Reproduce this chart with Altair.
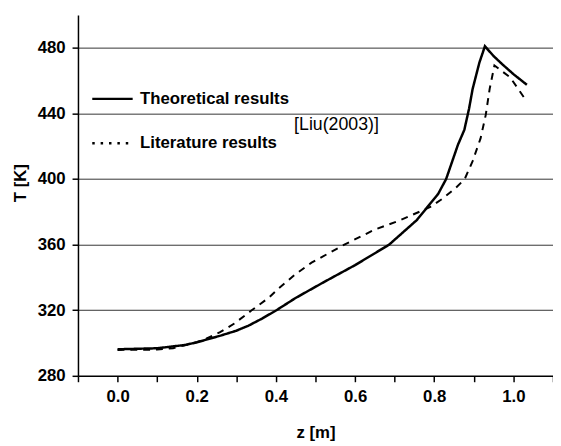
import altair as alt
import pandas as pd

# Theoretical results (solid)
z_theo = [0.0, 0.1, 0.17, 0.2, 0.26, 0.3, 0.33, 0.365, 0.4, 0.45, 0.52, 0.6,
          0.686, 0.756, 0.81, 0.83, 0.86, 0.876, 0.888, 0.897, 0.914, 0.928,
          0.95, 0.972, 1.0, 1.034]
T_theo = [296.2, 296.8, 298.8, 300.4, 304.5, 307.5, 310.5, 314.9, 319.8, 327.5,
          337, 347.5, 360, 375, 391, 400, 421, 430, 443, 455, 471, 481,
          475, 470, 464, 457.5]

# Literature results [Liu(2003)] (dashed)
z_lit = [0.0, 0.1, 0.14, 0.2, 0.224, 0.259, 0.295, 0.338, 0.382, 0.405, 0.449,
         0.49, 0.573, 0.648, 0.715, 0.79, 0.822, 0.855, 0.877, 0.897, 0.917,
         0.93, 0.94, 0.952, 0.992, 1.029]
T_lit = [295.8, 296.0, 296.8, 300.5, 302.6, 306.6, 311.9, 319.8, 327.6, 332.9,
         341.9, 349, 360, 369, 375, 383, 388.2, 394.8, 400, 411, 424.8,
         439, 455, 469.3, 462, 449]

series_names = ["Theoretical results", "Literature results"]
x_ticks = [round(-0.1 + 0.1 * i, 1) for i in range(13)]
y_ticks = list(range(280, 501, 20))
annotation = ["[Liu(2003)]"]
annotation_z = [0.446]
annotation_T = [433]

theo = pd.DataFrame({"z": z_theo, "T": T_theo, "series": series_names[0]})
lit = pd.DataFrame({"z": z_lit, "T": T_lit, "series": series_names[1]})
ann = pd.DataFrame({"z": annotation_z, "T": annotation_T, "text": annotation})

FONT = "Liberation Sans"
FS = 17

x_enc = alt.X(
    "z:Q",
    scale=alt.Scale(domain=[-0.1, 1.1], nice=False, zero=False),
    axis=alt.Axis(
        title="z [m]",
        values=x_ticks,
        labelExpr="abs(round(datum.value*10)) % 2 == 0 ? format(datum.value, '.1f') : ''",
        grid=False,
        tickSize=6,
        tickWidth=1.5,
        tickColor="black",
        domainColor="black",
        domainWidth=1.5,
        labelFont=FONT,
        labelFontSize=FS,
        labelFontWeight="bold",
        labelColor="black",
        labelPadding=7,
        labelFlush=False,
        titleFont=FONT,
        titleFontSize=FS,
        titleFontWeight="bold",
        titleColor="black",
        titleX=241,
        titleY=58,
        titleBaseline="middle",
        titleAnchor="middle",
    ),
)

y_enc = alt.Y(
    "T:Q",
    scale=alt.Scale(domain=[280, 500], nice=False, zero=False),
    axis=alt.Axis(
        title="T [K]",
        values=y_ticks,
        labelExpr="datum.value % 40 == 0 ? datum.label : ''",
        grid=True,
        gridColor="#333333",
        gridWidth=1,
        gridOpacity={"condition": {"test": "datum.value % 40 === 0 && datum.value > 280 && datum.value < 500", "value": 1}, "value": 0},
        tickSize=6,
        tickWidth=1.5,
        tickColor="black",
        domainColor="black",
        domainWidth=1.5,
        labelFont=FONT,
        labelFontSize=FS,
        labelFontWeight="bold",
        labelColor="black",
        labelPadding=7,
        labelFlush=False,
        titleFont=FONT,
        titleFontSize=FS,
        titleFontWeight="bold",
        titleColor="black",
        titleX=-58,
        titleY=170,
        titleAngle=270,
        titleAlign="center",
        titleBaseline="middle",
    ),
)

dash_scale = alt.Scale(domain=series_names, range=[[1, 0], [2.5, 6]])

theo_line = alt.Chart(theo).mark_line(
    color="black", strokeWidth=2.5
).encode(
    x=x_enc,
    y=y_enc,
    strokeDash=alt.StrokeDash(
        "series:N",
        scale=dash_scale,
        legend=alt.Legend(
            title=None,
            orient="none",
            legendX=13,
            legendY=63,
            symbolType="stroke",
            symbolSize=1681,
            symbolStrokeWidth=2.5,
            symbolStrokeColor="black",
            labelFont=FONT,
            labelFontSize=FS,
            labelFontWeight="bold",
            labelColor="black",
            labelOffset=6,
            rowPadding=15,
            padding=0,
        ),
    ),
)

lit_line = alt.Chart(lit).mark_line(
    color="black", strokeWidth=2, strokeDash=[7, 6]
).encode(x="z:Q", y="T:Q")

ann_text = alt.Chart(ann).mark_text(
    align="left", baseline="middle", font=FONT, fontSize=18, color="black"
).encode(x="z:Q", y="T:Q", text="text:N")

chart = alt.layer(theo_line, lit_line, ann_text).properties(
    width=482,
    height=366,
    autosize=alt.AutoSizeParams(type="none"),
    padding={"left": 71, "top": 4, "right": 0, "bottom": 68},
    background="white",
).configure_view(stroke=None)

chart.save("out.html", embed_options={"renderer": "svg", "actions": False})
